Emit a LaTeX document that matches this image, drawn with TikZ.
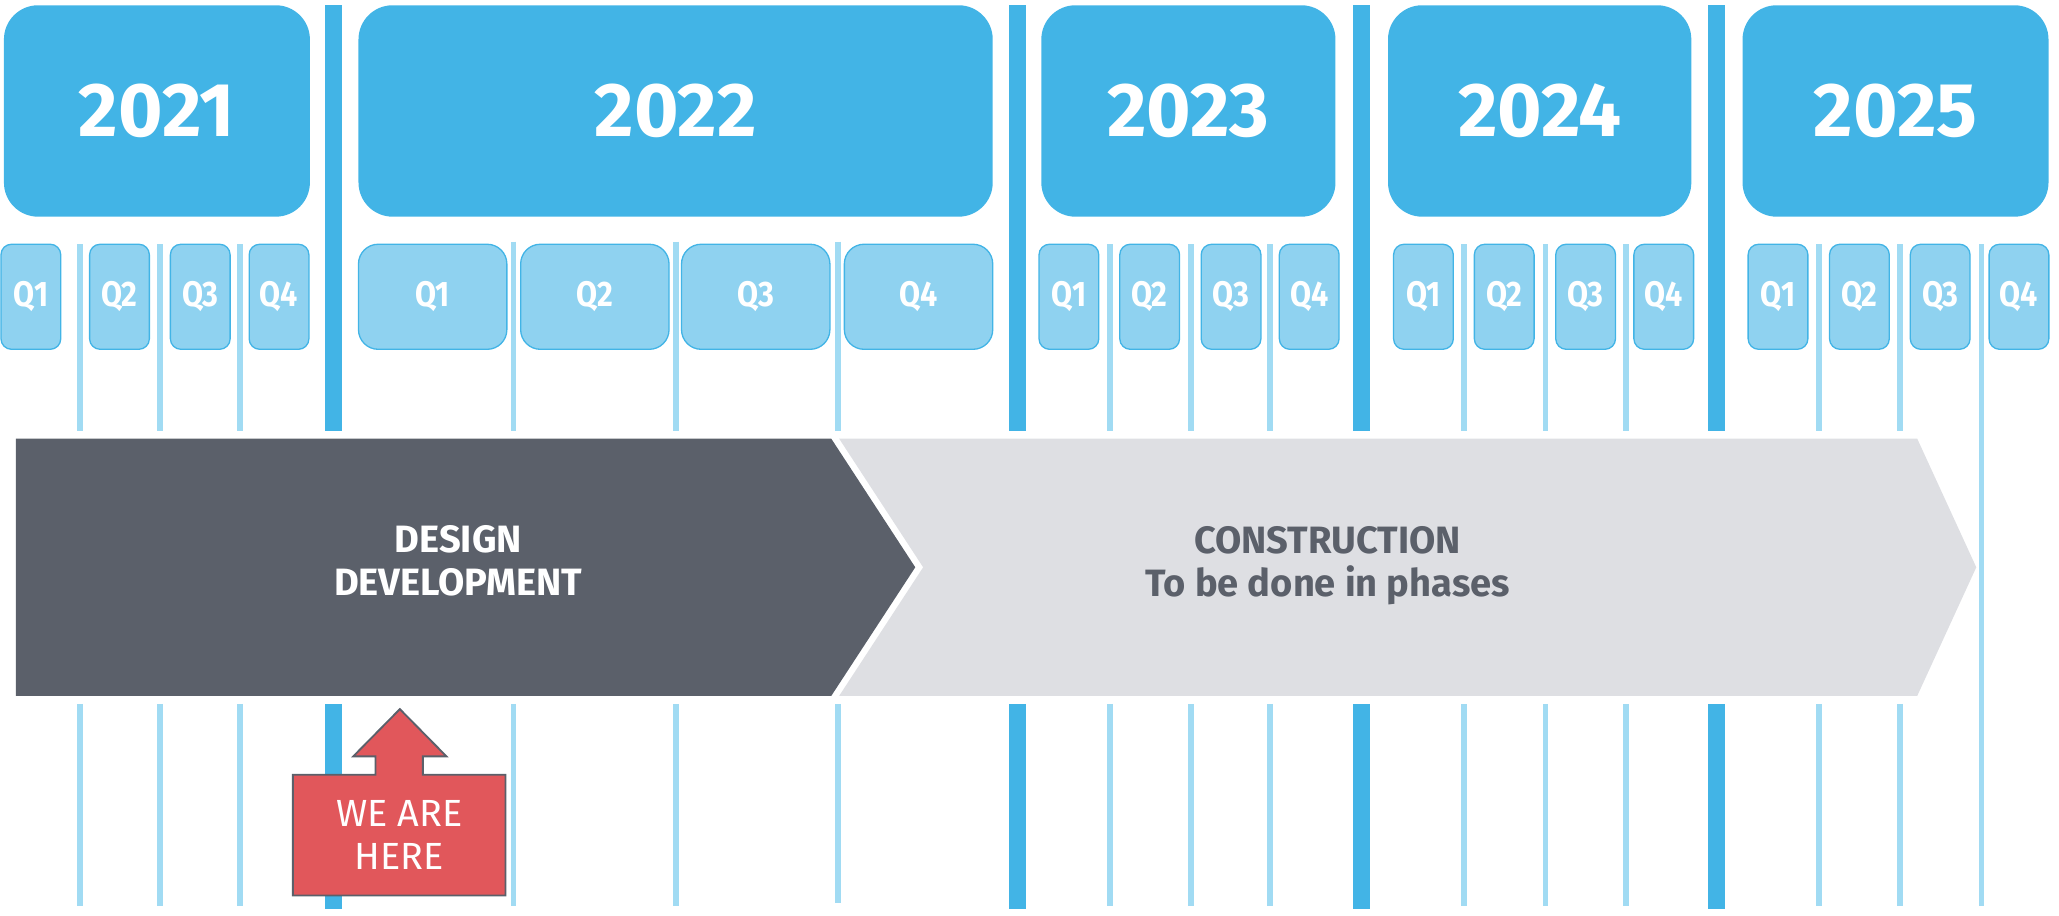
\documentclass[tikz,border=0pt]{standalone}
\usepackage{fontspec}
\setmainfont{Fira Sans}
\newfontfamily\narrowfont{Fira Sans}[FakeStretch=0.86]
\usepackage{tikz}

\definecolor{yearblue}{RGB}{66,180,230}
\definecolor{qblue}{RGB}{143,210,240}
\definecolor{lineblue}{RGB}{161,219,243}
\definecolor{darkband}{RGB}{91,96,106}
\definecolor{lightband}{RGB}{222,223,227}
\definecolor{herered}{RGB}{225,87,91}

\tikzset{
    yearbox/.style={fill=yearblue, rounded corners=13pt, minimum height=80.5pt, inner sep=0pt,
        text=white, font=\fontsize{29}{34}\selectfont\bfseries},
    qbox/.style={fill=qblue, draw=yearblue, line width=0.5pt, rounded corners=4pt,
        minimum width=22.75pt, minimum height=40pt, inner sep=0pt,
        text=white, font=\narrowfont\fontsize{13.5}{15}\selectfont\bfseries},
    qwide/.style={qbox, minimum width=56.5pt, rounded corners=7.5pt},
    qline/.style={draw=lineblue, line width=2.2pt},
    yline/.style={draw=yearblue, line width=6.5pt},
    bandtext/.style={align=center, inner sep=0pt,
        font=\fontsize{14.5}{16.5}\selectfont\bfseries},
}

\begin{document}
\begin{tikzpicture}[x=0.5pt,y=-0.5pt]
    \useasboundingbox (0,0) rectangle (1568,697);

    \coordinate (D1) at (12,334);
    \coordinate (D2) at (633,334);
    \coordinate (D3) at (697,432);
    \coordinate (D4) at (633,530);
    \coordinate (D5) at (12,530);
    \coordinate (C1) at (639,334);
    \coordinate (C2) at (1460,334);
    \coordinate (C3) at (1505,432);
    \coordinate (C4) at (1460,530);
    \coordinate (C5) at (639,530);
    \coordinate (C6) at (703,432);

    % year lines
    \draw[yline] (254,4) -- (254,328) (254,536) -- (254,692);
    \draw[yline] (775,4) -- (775,328) (775,536) -- (775,692);
    \draw[yline] (1037,4) -- (1037,328) (1037,536) -- (1037,692);
    \draw[yline] (1307,4) -- (1307,328) (1307,536) -- (1307,692);

    % quarter lines
    \draw[qline] (61,186) -- (61,328) (61,536) -- (61,690)
        (122,186) -- (122,328) (122,536) -- (122,690)
        (183,186) -- (183,328) (183,536) -- (183,690); % 2021
    \draw[qline] (391,184) -- (391,328) (391,536) -- (391,690)
        (515,184) -- (515,328) (515,536) -- (515,690)
        (638,184) -- (638,328) (638,536) -- (638,688); % 2022
    \draw[qline] (845,186) -- (845,328) (845,536) -- (845,690)
        (907,186) -- (907,328) (907,536) -- (907,690)
        (967,186) -- (967,328) (967,536) -- (967,690); % 2023
    \draw[qline] (1115,186) -- (1115,328) (1115,536) -- (1115,690)
        (1177,186) -- (1177,328) (1177,536) -- (1177,690)
        (1238,186) -- (1238,328) (1238,536) -- (1238,690); % 2024
    \draw[qline] (1385,186) -- (1385,328) (1385,536) -- (1385,690)
        (1447,186) -- (1447,328) (1447,536) -- (1447,690)
        (1509,186) -- (1509,690); % 2025

    % years
    \node[yearbox, minimum width=116.5pt] (y2021) at (119.5,84.5) {2021};
    \node[yearbox, minimum width=241.5pt] (y2022) at (514.5,84.5) {2022};
    \node[yearbox, minimum width=112pt] (y2023) at (905,84.5) {2023};
    \node[yearbox, minimum width=115.5pt] (y2024) at (1172.5,84.5) {2024};
    \node[yearbox, minimum width=116.5pt] (y2025) at (1443.5,84.5) {2025};

    % quarters
    \node[qbox] (a1) at (23.5,226) {Q1};
    \node[qbox] (a2) at (91,226) {Q2};
    \node[qbox] (a3) at (152.5,226) {Q3};
    \node[qbox] (a4) at (212.5,226) {Q4};
    \node[qwide] (b1) at (329.5,226) {Q1};
    \node[qwide] (b2) at (453,226) {Q2};
    \node[qwide] (b3) at (575.5,226) {Q3};
    \node[qwide] (b4) at (699.5,226) {Q4};
    \node[qbox] (c1) at (814,226) {Q1};
    \node[qbox] (c2) at (875.5,226) {Q2};
    \node[qbox] (c3) at (937.5,226) {Q3};
    \node[qbox] (c4) at (997,226) {Q4};
    \node[qbox] (d1) at (1084,226) {Q1};
    \node[qbox] (d2) at (1145.5,226) {Q2};
    \node[qbox] (d3) at (1207.5,226) {Q3};
    \node[qbox] (d4) at (1267,226) {Q4};
    \node[qbox] (e1) at (1354,226) {Q1};
    \node[qbox] (e2) at (1416,226) {Q2};
    \node[qbox] (e3) at (1477.5,226) {Q3};
    \node[qbox] (e4) at (1537.5,226) {Q4};

    % phases
    \fill[darkband] (D1) -- (D2) -- (D3) -- (D4) -- (D5) -- cycle; % design
    \fill[lightband] (C1) -- (C2) -- (C3) -- (C4) -- (C5) -- (C6) -- cycle; % construction
    \node[bandtext, text=white] (design) at (349,427) {DESIGN\\DEVELOPMENT};
    \node[bandtext, text=darkband] (construction) at (1011,431) {CONSTRUCTION\\To be done in phases};

    % we are here
    \draw[fill=herered, draw=darkband, line width=0.7pt] (223,590) -- (286,590) -- (286,576) -- (269,576)
        -- (304.5,540) -- (340,576) -- (322,576) -- (322,590) -- (385,590) -- (385,682) -- (223,682) -- cycle;
    \node[align=center, inner sep=0pt, text=white, font=\fontsize{14.4}{16.5}\selectfont] (here) at (304,636) {WE ARE\\HERE};
\end{tikzpicture}
\end{document}
